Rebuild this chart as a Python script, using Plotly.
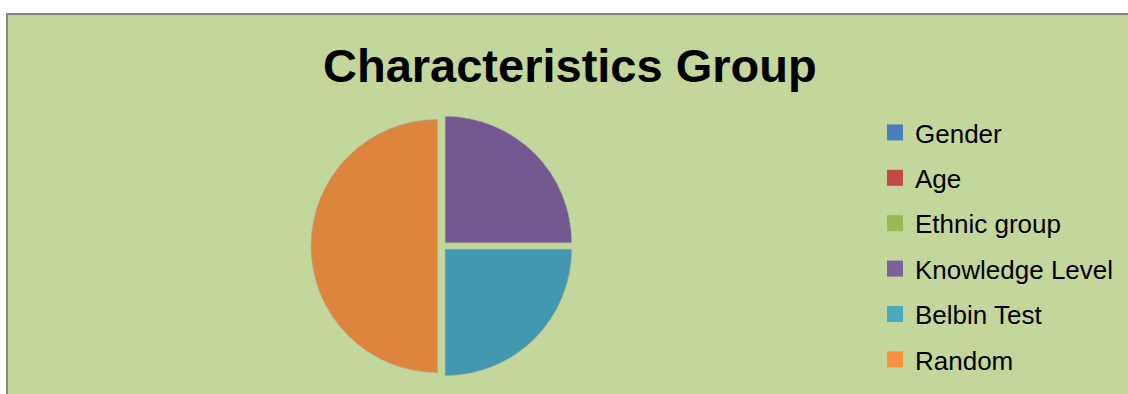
import plotly.graph_objects as go

labels = ["Gender", "Age", "Ethnic group", "Knowledge Level", "Belbin Test", "Random"]
values = [0, 0, 0, 25, 25, 50]
slice_colors = ["#4A7EBB", "#BE4B48", "#98B954", "#735990", "#4298AF", "#DD853D"]
legend_colors = ["#4A7EBB", "#BE4B48", "#98B954", "#7D60A0", "#46AAC5", "#F69240"]
title_text = "Characteristics Group"

W, H = 1128, 394
FONT = "Arial, Liberation Sans, sans-serif"

fig = go.Figure()

fig.add_trace(go.Pie(
    labels=labels,
    values=values,
    sort=False,
    direction="clockwise",
    rotation=0,
    pull=[0.035] * len(values),
    marker=dict(colors=slice_colors,
                line=dict(color="rgba(170,170,170,0.6)",
                          width=[0 if v == 0 else 1 for v in values])),
    textinfo="none",
    hoverinfo="label+percent",
    showlegend=False,
    domain=dict(x=[(442 - 131) / W, (442 + 131) / W], y=[(H - 246 - 131) / H, (H - 246 + 131) / H]),
))

for i, (lab, col) in enumerate(zip(labels, legend_colors)):
    fig.add_trace(go.Scatter(
        x=[None], y=[None], mode="markers", name=lab,
        marker=dict(symbol="square", size=16, color=col),
        legendgroup="g%d" % i, showlegend=True, hoverinfo="skip",
    ))

fig.update_layout(
    width=W, height=H,
    margin=dict(l=0, r=0, t=0, b=0),
    paper_bgcolor="white",
    plot_bgcolor="rgba(0,0,0,0)",
    xaxis=dict(visible=False),
    yaxis=dict(visible=False),
    shapes=[dict(
        type="rect", xref="paper", yref="paper", layer="below",
        x0=7 / W, x1=1.02, y0=-0.05, y1=1 - 14 / H,
        fillcolor="#C3D69B", line=dict(color="#868686", width=2),
    )],
    annotations=[dict(
        text="<b>%s</b>" % title_text, xref="paper", yref="paper",
        x=570 / W, y=1 - 65 / H, xanchor="center", yanchor="middle",
        showarrow=False, font=dict(family=FONT, size=47, color="black"),
    )],
    legend=dict(
        x=875 / W, y=1 - 109 / H, xanchor="left", yanchor="top",
        bgcolor="rgba(0,0,0,0)", borderwidth=0,
        font=dict(family=FONT, size=26, color="black"),
        tracegroupgap=8.6, itemwidth=30,
    ),
)

fig.write_html("out.html")
